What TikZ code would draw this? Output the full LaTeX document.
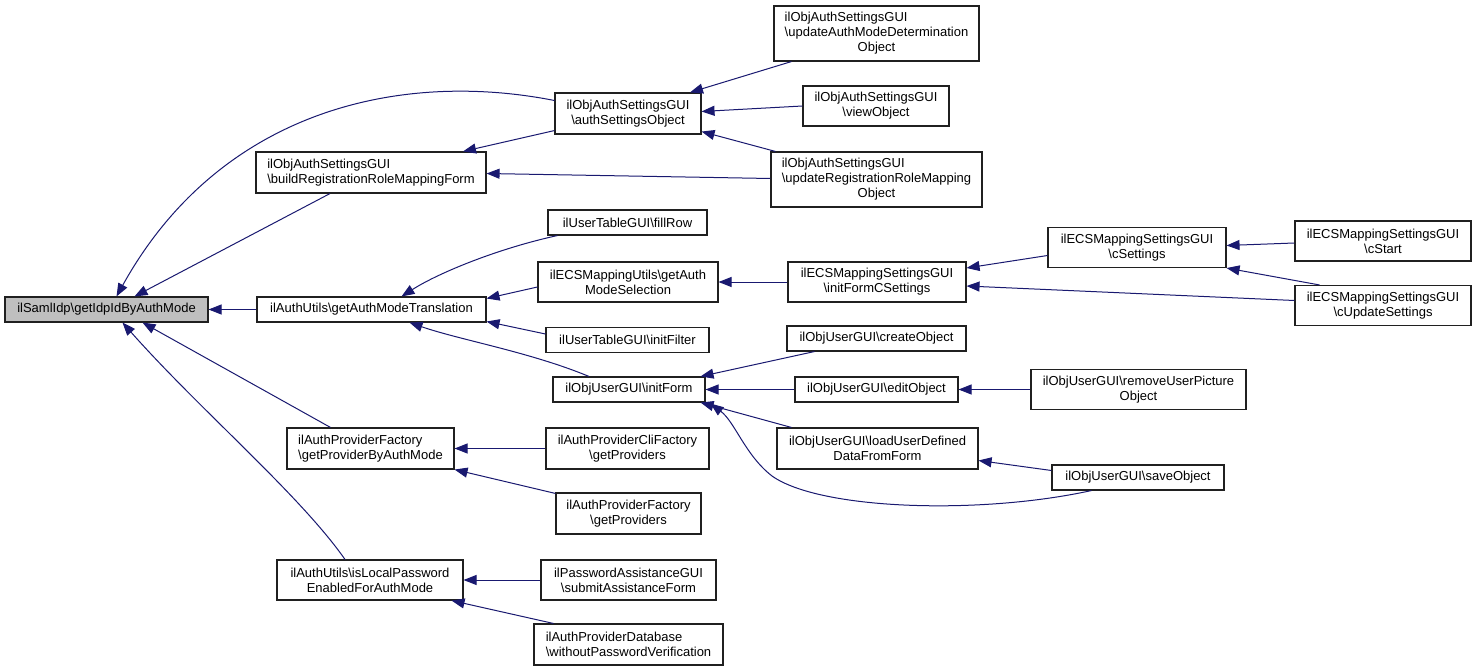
\documentclass[tikz,border=0pt]{standalone}
\usepackage{fontspec}
\setmainfont{Liberation Sans}
\usetikzlibrary{arrows.meta,calc}
\definecolor{edgeblue}{HTML}{191970}
\definecolor{rootgray}{HTML}{BFBFBF}
\definecolor{boxline}{HTML}{202020}
\newcommand{\bsl}{\textbackslash}
\begin{document}
\begin{tikzpicture}[x=1pt,y=-1pt,
  box/.style={draw=boxline, line width=1.1pt, inner sep=0pt, fill=white,
    font=\fontsize{13}{15}\selectfont, align=center},
  sz/.style 2 args={minimum width=#1, minimum height=#2},
  edge/.style={draw=edgeblue, line width=1pt, -{Triangle[length=13pt,width=10pt]}}]
\useasboundingbox[fill=white] (0,0) rectangle (1477,671);

% nodes
\node[box, sz={203}{25}, fill=rootgray] (root) at (106.5,309.5) {ilSamlIdp\bsl getIdpIdByAuthMode};
\node[box, sz={230}{41}, align=left] (brr) at (371,172.5) {ilObjAuthSettingsGUI\\\bsl buildRegistrationRoleMappingForm};
\node[box, sz={229}{25}] (gamt) at (371.5,309.5) {ilAuthUtils\bsl getAuthModeTranslation};
\node[box, sz={167}{41}, align=left] (gpbam) at (370.5,448.5) {ilAuthProviderFactory\\\bsl getProviderByAuthMode};
\node[box, sz={186}{40}] (ilpe) at (370,580) {ilAuthUtils\bsl isLocalPassword\\EnabledForAuthMode};

\node[box, sz={146}{41}] (aso) at (628,113.5) {ilObjAuthSettingsGUI\\\bsl authSettingsObject};
\node[box, sz={205}{55}] (uamd) at (876.5,33.5) {\begin{tabular}{@{}l@{}}ilObjAuthSettingsGUI\\\bsl updateAuthModeDetermination\\\multicolumn{1}{@{}c@{}}{Object}\end{tabular}};
\node[box, sz={146}{40}] (vo) at (876,106) {ilObjAuthSettingsGUI\\\bsl viewObject};
\node[box, sz={211}{55}] (urrm) at (876.5,179.5) {\begin{tabular}{@{}l@{}}ilObjAuthSettingsGUI\\\bsl updateRegistrationRoleMapping\\\multicolumn{1}{@{}c@{}}{Object}\end{tabular}};

\node[box, sz={159}{25}] (fr) at (627.5,222.5) {ilUserTableGUI\bsl fillRow};
\node[box, sz={180}{40}] (gams) at (628,282) {ilECSMappingUtils\bsl getAuth\\ModeSelection};
\node[box, sz={163}{25}] (ifl) at (627.5,340) {ilUserTableGUI\bsl initFilter};
\node[box, sz={152}{25}] (ifm) at (629,389.5) {ilObjUserGUI\bsl initForm};

\node[box, sz={178}{40}] (ifcs) at (877,282) {ilECSMappingSettingsGUI\\\bsl initFormCSettings};
\node[box, sz={178}{40}] (cs) at (1137,247.5) {ilECSMappingSettingsGUI\\\bsl cSettings};
\node[box, sz={176}{40}] (cst) at (1383,241) {ilECSMappingSettingsGUI\\\bsl cStart};
\node[box, sz={176}{40}] (cus) at (1383,305.5) {ilECSMappingSettingsGUI\\\bsl cUpdateSettings};

\node[box, sz={179}{25}] (co) at (876.5,338.5) {ilObjUserGUI\bsl createObject};
\node[box, sz={163}{25}] (eo) at (876.5,389.5) {ilObjUserGUI\bsl editObject};
\node[box, sz={215}{40}] (rup) at (1138.5,389.5) {ilObjUserGUI\bsl removeUserPicture\\Object};
\node[box, sz={201}{41}] (lud) at (877.5,448.5) {ilObjUserGUI\bsl loadUserDefined\\DataFromForm};
\node[box, sz={172}{25}] (so) at (1138,477.5) {ilObjUserGUI\bsl saveObject};

\node[box, sz={163}{41}] (cli) at (627.5,448.5) {ilAuthProviderCliFactory\\\bsl getProviders};
\node[box, sz={145}{41}] (fgp) at (628.5,513.5) {ilAuthProviderFactory\\\bsl getProviders};
\node[box, sz={175}{40}] (pas) at (628.5,580) {ilPasswordAssistanceGUI\\\bsl submitAssistanceForm};
\node[box, sz={189}{41}, align=left] (wpv) at (628.5,644.5) {ilAuthProviderDatabase\\\bsl withoutPasswordVerification};

% edges into root
\draw[edge] (gamt.west) -- (root.east);
\draw[edge] ($(brr.south)+(-41,0)$) -- ($(root.north)+(28,0)$);
\draw[edge] ($(aso.west)+(0,-13)$) .. controls (400,70) and (220,110) .. ($(root.north)+(10,0)$);
\draw[edge] ($(gpbam.north)+(-40,0)$) -- ($(root.south)+(36,0)$);
\draw[edge] ($(ilpe.north)+(-25,0)$) .. controls (300,495) and (200,410) .. ($(root.south)+(16,0)$);

% into brr
\draw[edge] ($(aso.south west)+(0,-4)$) -- ($(brr.north)+(92,0)$);
\draw[edge] ($(urrm.west)+(0,-1)$) -- ($(brr.east)+(0,1)$);

% into aso
\draw[edge] ($(uamd.south)+(-85,0)$) -- ($(aso.north)+(62,0)$);
\draw[edge] (vo.west) -- ($(aso.east)+(0,-2)$);
\draw[edge] ($(urrm.north west)+(5,0)$) -- ($(aso.south east)+(0,-3)$);

% into gamt
\draw[edge] ($(fr.south west)+(10,0)$) .. controls (500,248) and (440,272) .. ($(gamt.north)+(30,0)$);
\draw[edge] ($(gams.west)+(0,5)$) -- ($(gamt.east)+(0,-11)$);
\draw[edge] ($(ifl.west)+(0,-6)$) -- ($(gamt.east)+(0,12)$);
\draw[edge] ($(ifm.north)+(-40,0)$) .. controls (530,352) and (460,340) .. ($(gamt.south)+(38,0)$);

% ECS chain
\draw[edge] (ifcs.west) -- (gams.east);
\draw[edge] ($(cs.west)+(0,8)$) -- ($(ifcs.east)+(0,-14)$);
\draw[edge] ($(cus.west)+(0,-5)$) -- ($(ifcs.east)+(0,4)$);
\draw[edge] ($(cst.west)+(0,2)$) -- ($(cs.east)+(0,-2)$);
\draw[edge] ($(cus.north west)+(25,0)$) -- (cs.south east);

% into initForm
\draw[edge] ($(co.south west)+(28,0)$) -- ($(ifm.north east)+(-5,0)$);
\draw[edge] (eo.west) -- (ifm.east);
\draw[edge] ($(lud.north west)+(15,0)$) -- ($(ifm.south east)+(-5,0)$);
\draw[edge] ($(so.south west)+(40,0)$) .. controls (980,515) and (820,510) .. (772,476) .. controls (745,455) and (735,422) .. ($(ifm.south east)+(5,1)$);

\draw[edge] (rup.west) -- (eo.east);
\draw[edge] ($(so.west)+(0,-7)$) -- ($(lud.east)+(0,12)$);

% providers
\draw[edge] (cli.west) -- (gpbam.east);
\draw[edge] ($(fgp.north west)+(0,1)$) -- (gpbam.south east);
\draw[edge] (pas.west) -- (ilpe.east);
\draw[edge] ($(wpv.north west)+(20,0)$) -- ($(ilpe.south east)+(-12,0)$);
\end{tikzpicture}
\end{document}
